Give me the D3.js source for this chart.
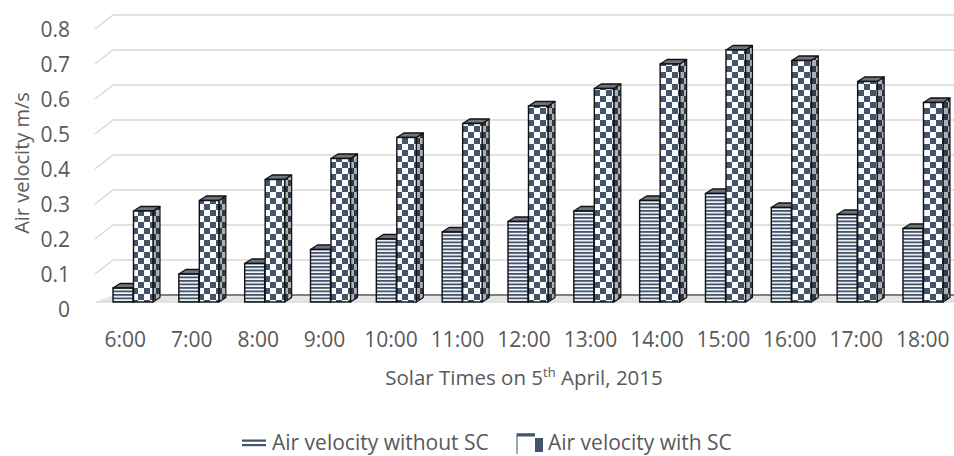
<!DOCTYPE html>
<html><head><meta charset="utf-8">
<script src="https://cdn.jsdelivr.net/npm/d3@7"></script>
<style>body{margin:0;background:#fff} text{font-family:"Open Sans",sans-serif;fill:#595959}</style>
</head><body><svg id="c" width="954" height="456"></svg>
<script>
// ---- data ----
const categories = ["6:00","7:00","8:00","9:00","10:00","11:00","12:00","13:00","14:00","15:00","16:00","17:00","18:00"];
const withoutSC = [0.04,0.08,0.11,0.15,0.18,0.20,0.23,0.26,0.29,0.31,0.27,0.25,0.21];
const withSC    = [0.26,0.29,0.35,0.41,0.47,0.51,0.56,0.61,0.68,0.72,0.69,0.63,0.57];
const yTicks = [0,0.1,0.2,0.3,0.4,0.5,0.6,0.7,0.8];
const seriesNames = ["Air velocity without SC","Air velocity with SC"];

const svg = d3.select("#c");
const dark = "#44546a";

// ---- scales ----
const yBack = d3.scaleLinear().domain([0,0.8]).range([295,15]);   // back wall
const yBar  = d3.scaleLinear().domain([0,0.8]).range([302,22]);   // bar front faces
const xLab  = d3.scaleBand().domain(categories).range([92,956]);  // front labels
const xBar  = d3.scaleBand().domain(categories).range([103,958.8]);

// ---- patterns ----
const defs = svg.append("defs");
const pS = defs.append("pattern").attr("id","stripes").attr("patternUnits","userSpaceOnUse")
  .attr("width",8).attr("height",3.5);
pS.append("rect").attr("width",8).attr("height",3.5).attr("fill","#f2f5fa");
pS.append("rect").attr("width",8).attr("height",1.8).attr("fill",dark);
const pC = defs.append("pattern").attr("id","checker").attr("patternUnits","userSpaceOnUse")
  .attr("width",12).attr("height",12);
pC.append("rect").attr("width",12).attr("height",12).attr("fill","#fbfcfe");
pC.append("rect").attr("x",0).attr("y",0).attr("width",6).attr("height",6).attr("fill",dark);
pC.append("rect").attr("x",6).attr("y",6).attr("width",6).attr("height",6).attr("fill",dark);

// ---- gridlines (back wall + left side wall) ----
const grid = svg.append("g");
yTicks.filter(v=>v>0).forEach(v=>{
  const y = yBack(v);
  grid.append("path").attr("d",`M95,${y+14}L113,${y}L954,${y}`)
    .attr("fill","none").attr("stroke","#d9d9d9").attr("stroke-width",1.5);
});
// floor
grid.append("path").attr("d",`M96,${yBar(0)}L113,${yBack(0)}L954,${yBack(0)}L954,${yBar(0)}Z`)
  .attr("fill","#e6e6e6").attr("stroke","none");
grid.append("path").attr("d",`M96,${yBar(0)}L954,${yBar(0)}`)
  .attr("stroke","#d0d0d0").attr("stroke-width",1);
grid.append("path").attr("d",`M113,${yBack(0)}L954,${yBack(0)}`)
  .attr("stroke","#7f7f7f").attr("stroke-width",1.8);

// ---- y tick labels ----
svg.append("g").selectAll("text").data(yTicks).join("text")
  .attr("x",70).attr("y",d=>yBack(d)+22).attr("text-anchor","end")
  .style("font-size","21px").text(d=>d===0?"0":d3.format(".1f")(d));

// ---- bars ----
const dx = 7, dy = -4.5;
const barW = [20,19.5];
const fills = ["url(#stripes)","url(#checker)"];
const g = svg.append("g");
categories.forEach((c,i)=>{
  const s = xBar(c) + 10;
  [withoutSC[i], withSC[i]].forEach((v,k)=>{
    const x0 = k===0 ? s : s+20.5, w = barW[k];
    const yt = yBar(v), yb = yBar(0);
    const gb = g.append("g");
    // side
    const side = `M${x0+w},${yb}L${x0+w+dx},${yb+dy}L${x0+w+dx},${yt+dy}L${x0+w},${yt}Z`;
    gb.append("path").attr("d",side).attr("fill",fills[k]);
    gb.append("path").attr("d",side).attr("fill","#000").attr("fill-opacity",0.3)
      .attr("stroke","#111").attr("stroke-width",1.2).attr("stroke-linejoin","round");
    // top
    const top = `M${x0},${yt}L${x0+dx},${yt+dy}L${x0+w+dx},${yt+dy}L${x0+w},${yt}Z`;
    gb.append("path").attr("d",top).attr("fill","#6f7480")
      .attr("stroke","#111").attr("stroke-width",1.3).attr("stroke-linejoin","round");
    // front
    gb.append("rect").attr("x",x0).attr("y",yt).attr("width",w).attr("height",yb-yt)
      .attr("fill",fills[k]).attr("stroke","#111").attr("stroke-width",1.4);
  });
});

// ---- x tick labels ----
svg.append("g").selectAll("text").data(categories).join("text")
  .attr("x",d=>xLab(d)+xLab.bandwidth()/2).attr("y",347).attr("text-anchor","middle")
  .style("font-size","21px").text(d=>d);

// ---- axis titles ----
const xt = svg.append("text").attr("x",524).attr("y",385).attr("text-anchor","middle").style("font-size","20.5px");
xt.append("tspan").text("Solar Times on 5");
xt.append("tspan").attr("dy",-8).style("font-size","13px").text("th");
xt.append("tspan").attr("dy",8).text(" April, 2015");

svg.append("text").attr("transform","translate(29,163) rotate(-90)").attr("text-anchor","middle")
  .style("font-size","20px").text("Air velocity m/s");

// ---- legend ----
const ly = 450;
const lg = svg.append("g");
lg.append("rect").attr("x",242).attr("y",ly-10.5).attr("width",24).attr("height",2.2).attr("fill",dark);
lg.append("rect").attr("x",242).attr("y",ly-6).attr("width",24).attr("height",2.2).attr("fill",dark);
lg.append("text").attr("x",272).attr("y",ly).style("font-size","21px").text(seriesNames[0]);
lg.append("path").attr("d",`M517,${ly+4}L517,${ly-16}L535,${ly-16}`).attr("fill","none").attr("stroke","#7f8a9c").attr("stroke-width",1.5);
lg.append("rect").attr("x",517).attr("y",ly-16.5).attr("width",18).attr("height",3).attr("fill",dark);
lg.append("rect").attr("x",535).attr("y",ly-12).attr("width",8).attr("height",14).attr("fill",dark);
lg.append("text").attr("x",548).attr("y",ly).style("font-size","21px").text(seriesNames[1]);
</script></body></html>
